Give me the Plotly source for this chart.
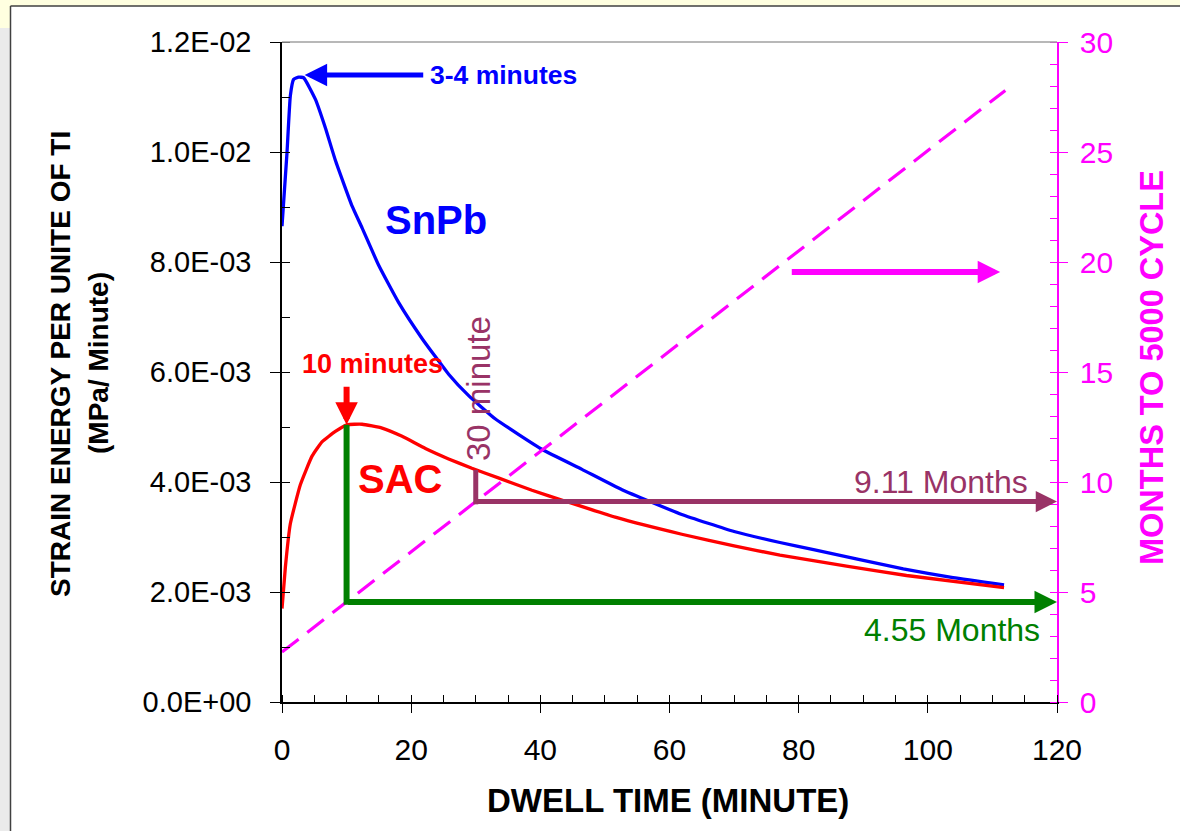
import plotly.graph_objects as go

# ---------------- data ----------------
SNPB_T = [0, 0.77, 1.29, 1.8, 2.58, 3.35, 5.16, 6.71, 8.26, 10.84, 12.4, 14.97, 18.07,
          21.68, 25.8, 28.9, 33.0, 40.3, 46.45, 52.65, 61.9, 70.0, 77.1, 82.3, 96.2, 103.9, 111.8]
SNPB_E = [8.65e-3, 9.98e-3, 11.02e-3, 11.32e-3, 11.36e-3, 11.35e-3, 10.96e-3, 10.44e-3,
          9.85e-3, 9.02e-3, 8.62e-3, 7.94e-3, 7.26e-3, 6.61e-3, 5.96e-3, 5.57e-3, 5.15e-3,
          4.59e-3, 4.23e-3, 3.86e-3, 3.41e-3, 3.10e-3, 2.90e-3, 2.77e-3, 2.42e-3, 2.26e-3, 2.13e-3]

SAC_T = [0, 0.52, 1.29, 2.84, 4.65, 6.19, 8.26, 10.06, 12.4, 15.5, 18.6, 22.2, 25.8, 29.4,
         33.6, 38.7, 43.9, 51.6, 61.9, 70.0, 77.1, 87.4, 96.7, 111.8]
SAC_E = [1.7e-3, 2.45e-3, 3.24e-3, 3.95e-3, 4.47e-3, 4.73e-3, 4.92e-3, 5.04e-3, 5.05e-3,
         4.98e-3, 4.83e-3, 4.61e-3, 4.42e-3, 4.25e-3, 4.07e-3, 3.85e-3, 3.65e-3, 3.36e-3,
         3.05e-3, 2.84e-3, 2.67e-3, 2.47e-3, 2.30e-3, 2.08e-3]

MONTHS_T = [0, 10, 30, 112]
MONTHS = [2.27, 4.55, 9.11, 27.8]

X_TICKS = [0, 20, 40, 60, 80, 100, 120]
Y_TICKS = [0, 0.002, 0.004, 0.006, 0.008, 0.010, 0.012]
Y_LABELS = ["0.0E+00", "2.0E-03", "4.0E-03", "6.0E-03", "8.0E-03", "1.0E-02", "1.2E-02"]
Y2_TICKS = [0, 5, 10, 15, 20, 25, 30]

SAC_PEAK_T, SAC_PEAK_E = 10, 5.04e-3
SAC_30_T, SAC_30_E = 30, 4.22e-3
M10, M30 = 4.55, 9.11

# ---------------- styling ----------------
FONT = "Liberation Sans, Arial, sans-serif"
BLUE, RED, GREEN, PURPLE, MAG = "#0000FF", "#FF0000", "#008000", "#993366", "#FF00FF"
W, H = 1180, 831
L, R, T, B = 282, 1057, 42, 702
YMAX, Y2MAX = 0.012, 30


def px(x):
    return (x - L) / (R - L)


def py(y):
    return (B - y) / (B - T)


fig = go.Figure()
fig.add_trace(go.Scatter(x=MONTHS_T, y=MONTHS, yaxis="y2", mode="lines",
                         line=dict(color=MAG, width=3.2, dash="21px,11px")))
fig.add_trace(go.Scatter(x=SNPB_T, y=SNPB_E, mode="lines",
                         line=dict(color=BLUE, width=3.3, shape="spline", smoothing=0.4)))
fig.add_trace(go.Scatter(x=SAC_T, y=SAC_E, mode="lines",
                         line=dict(color=RED, width=3.3, shape="spline", smoothing=0.4)))

shapes = [
    # outer frame decoration
    dict(type="rect", xref="paper", yref="paper", x0=px(0), x1=px(W), y0=py(6), y1=py(-2),
         fillcolor="#FFFFE0", line=dict(width=0), layer="below"),
    dict(type="rect", xref="paper", yref="paper", x0=px(-2), x1=px(10), y0=py(28), y1=py(0),
         fillcolor="#FFFFE0", line=dict(width=0), layer="below"),
    dict(type="rect", xref="paper", yref="paper", x0=px(-2), x1=px(10), y0=py(H + 2), y1=py(28),
         fillcolor="#EBEBEB", line=dict(width=0), layer="below"),
    dict(type="line", xref="paper", yref="paper", x0=px(10.5), x1=px(10.5), y0=py(H + 2), y1=py(6),
         line=dict(color="#404040", width=1.5)),
    dict(type="line", xref="paper", yref="paper", x0=px(10.5), x1=px(W + 2), y0=py(6), y1=py(6),
         line=dict(color="#404040", width=1.5)),
    # top border of plot area
    dict(type="line", xref="paper", yref="paper", x0=0, x1=1, y0=1, y1=1,
         line=dict(color="#A0A0A0", width=1.5)),
    # green vertical at 10 minutes
    dict(type="line", xref="x", yref="y", x0=SAC_PEAK_T, x1=SAC_PEAK_T,
         y0=M10 / Y2MAX * YMAX - 0.00005, y1=SAC_PEAK_E, line=dict(color=GREEN, width=6)),
    # purple vertical at 30 minutes
    dict(type="line", xref="x", yref="y", x0=SAC_30_T, x1=SAC_30_T,
         y0=M30 / Y2MAX * YMAX - 0.00005, y1=SAC_30_E, line=dict(color=PURPLE, width=5)),
]

ann = []


def arrow(x, y, ax, ay, color, width, yref="y", size=1.0):
    ann.append(dict(x=x, y=y, ax=ax, ay=ay, xref="x", yref=yref, axref="x", ayref=yref,
                    text="", showarrow=True, arrowhead=2, arrowsize=size, arrowwidth=width,
                    arrowcolor=color, standoff=0))


arrow(3.5, 0.0114, 22.1, 0.0114, BLUE, 5, size=0.9)
arrow(SAC_PEAK_T, SAC_PEAK_E, SAC_PEAK_T, 0.00576, RED, 6, size=0.75)
arrow(120, M10, SAC_PEAK_T, M10, GREEN, 6, yref="y2", size=0.75)
arrow(120, M30, SAC_30_T, M30, PURPLE, 5, yref="y2", size=0.85)
arrow(111.2, 19.55, 78.7, 19.55, MAG, 6, yref="y2", size=0.75)


def label(text, x, y, size, color, xanchor="center", angle=0, bold=False):
    ann.append(dict(x=px(x), y=py(y), xref="paper", yref="paper",
                    text=(f"<b>{text}</b>" if bold else text),
                    showarrow=False, xanchor=xanchor, yanchor="middle", textangle=angle,
                    font=dict(family=FONT, size=size, color=color)))


label("3-4 minutes", 428, 75, 26.5, BLUE, "left", bold=True)
label("SnPb", 383, 220, 40, BLUE, "left", bold=True)
label("10 minutes", 300, 364, 27, RED, "left", bold=True)
label("SAC", 356, 479, 40, RED, "left", bold=True)
label("9.11 Months", 1030, 482, 32, PURPLE, "right")
label("4.55 Months", 1042, 630, 32, GREEN, "right")
label("30 minute", 478, 389, 33, PURPLE, "center", angle=-90)
# axis titles
label("STRAIN ENERGY PER UNITE OF TI", 60, 364, 28, "black", "center", angle=-90, bold=True)
label("(MPa/ Minute)", 98, 363, 28, "black", "center", angle=-90, bold=True)
label("MONTHS TO 5000 CYCLE", 1152, 368, 32.5, MAG, "center", angle=-90, bold=True)
label("DWELL TIME (MINUTE)", 668, 800, 33, "black", "center", bold=True)

fig.update_layout(
    width=W, height=H,
    margin=dict(l=L, r=W - R, t=T, b=H - B, pad=0),
    paper_bgcolor="white", plot_bgcolor="white",
    showlegend=False,
    shapes=shapes, annotations=ann,
    xaxis=dict(range=[0, 120], tickmode="array", tickvals=X_TICKS, showgrid=False, zeroline=False,
               showline=True, linecolor="black", linewidth=1.5, ticks="outside", ticklen=9,
               tickcolor="black", tickwidth=1, ticklabelstandoff=11,
               tickfont=dict(family=FONT, size=30, color="black"),
               minor=dict(tickmode="linear", tick0=0, dtick=5, ticks="inside", ticklen=7,
                          tickcolor="black", tickwidth=1, showgrid=False)),
    yaxis=dict(range=[0, YMAX], tickmode="array", tickvals=Y_TICKS, ticktext=Y_LABELS,
               showgrid=False, zeroline=False, showline=True, linecolor="black", linewidth=1.5,
               ticks="outside", ticklen=10, tickcolor="black", tickwidth=1, ticklabelstandoff=13,
               tickfont=dict(family=FONT, size=29, color="black"),
               minor=dict(tickmode="linear", tick0=0, dtick=0.001, ticks="inside", ticklen=8,
                          tickcolor="black", tickwidth=1, showgrid=False)),
    yaxis2=dict(range=[0, Y2MAX], overlaying="y", side="right", anchor="x", tickmode="array",
                tickvals=Y2_TICKS, showgrid=False, zeroline=False, showline=True, linecolor=MAG,
                linewidth=1.5, ticks="outside", ticklen=9, tickcolor=MAG, tickwidth=1,
                ticklabelstandoff=6, tickfont=dict(family=FONT, size=30, color=MAG),
                minor=dict(tickmode="linear", tick0=0, dtick=1, ticks="inside", ticklen=7,
                           tickcolor=MAG, tickwidth=1, showgrid=False)),
)

fig.write_html("out.html")
